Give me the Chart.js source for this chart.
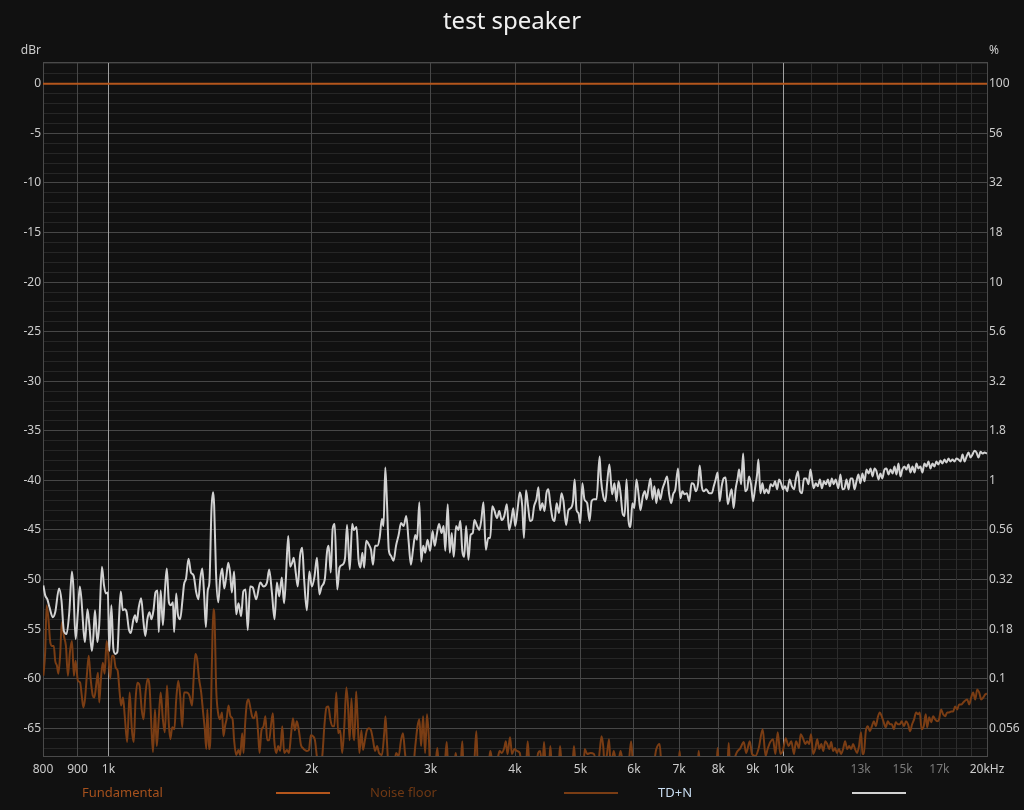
<!DOCTYPE html>
<html>
<head>
<meta charset="utf-8">
<title>test speaker</title>
<script src="https://cdn.jsdelivr.net/npm/chart.js@4.4.1/dist/chart.umd.min.js"></script>
<style>
  html, body { margin: 0; padding: 0; background: #111111; }
  #wrap { width: 1024px; height: 810px; }
</style>
</head>
<body>
<div id="wrap"><canvas id="graph" width="1024" height="810"></canvas></div>
<script>
// Values: [frequency Hz, level dBr]
const FUND_POINTS = [[800, 0], [20000, 0]];

const NOISE_POINTS = [
  [801, -59.7], [806, -57.3], [810, -52.6], [815, -54.0], [820, -56.3], [825, -56.7], [830, -56.7], [834, -58.2],
  [839, -58.7], [843, -59.5], [848, -57.7], [853, -54.3], [859, -55.7], [865, -56.7], [871, -59.7], [877, -57.3],
  [883, -56.2], [889, -59.7], [894, -58.2], [901, -60.2], [908, -60.4], [913, -61.7], [918, -62.9], [923, -62.1],
  [929, -59.7], [935, -57.7], [941, -60.0], [948, -61.7], [953, -61.9], [960, -60.4], [965, -59.4], [969, -62.4],
  [975, -59.9], [981, -58.4], [987, -59.5], [994, -56.2], [1000, -57.7], [1006, -60.0], [1012, -57.7], [1018, -57.7],
  [1025, -58.9], [1032, -59.2], [1039, -61.4], [1044, -62.7], [1051, -61.9], [1057, -63.7], [1066, -66.4], [1075, -61.4],
  [1083, -65.1], [1090, -66.4], [1097, -62.1], [1104, -60.4], [1112, -60.7], [1120, -63.1], [1127, -64.1], [1135, -61.4],
  [1143, -60.0], [1151, -61.0], [1157, -64.4], [1164, -67.4], [1172, -63.1], [1179, -66.8], [1187, -64.1], [1195, -61.4],
  [1204, -64.1], [1212, -65.4], [1221, -60.7], [1229, -64.7], [1235, -66.1], [1243, -64.9], [1252, -65.1], [1260, -62.1],
  [1269, -60.2], [1277, -61.7], [1286, -64.9], [1294, -61.4], [1306, -61.4], [1318, -61.7], [1330, -62.7], [1337, -60.0],
  [1345, -57.5], [1353, -58.0], [1362, -60.0], [1372, -61.4], [1381, -63.4], [1389, -65.1], [1396, -67.1], [1401, -63.1],
  [1409, -67.1], [1415, -66.4], [1423, -58.4], [1430, -53.0], [1436, -54.0], [1444, -61.0], [1453, -63.4], [1462, -64.1],
  [1473, -63.4], [1480, -65.8], [1489, -64.7], [1496, -64.1], [1506, -62.7], [1516, -63.8], [1527, -64.1], [1535, -66.2],
  [1546, -67.7], [1558, -67.2], [1567, -67.7], [1578, -65.5], [1585, -67.5], [1594, -64.5], [1603, -62.5], [1612, -62.1],
  [1621, -62.8], [1632, -63.8], [1643, -64.0], [1655, -63.3], [1666, -65.5], [1674, -67.5], [1685, -65.2], [1697, -64.8],
  [1708, -63.8], [1718, -66.2], [1730, -66.2], [1742, -64.5], [1752, -63.5], [1760, -66.2], [1772, -67.5], [1784, -66.8],
  [1796, -67.3], [1809, -64.8], [1821, -67.5], [1838, -67.2], [1851, -67.5], [1863, -65.8], [1876, -64.0], [1888, -65.2],
  [1901, -64.3], [1914, -65.2], [1928, -66.7], [1941, -67.0], [1954, -67.2], [1968, -67.3], [1981, -67.2], [1994, -65.7],
  [2008, -65.8], [2022, -66.2], [2036, -67.9], [2055, -69.0], [2074, -67.7], [2088, -64.8], [2103, -62.9], [2117, -62.8],
  [2131, -64.1], [2146, -64.8], [2160, -64.8], [2175, -61.4], [2189, -65.5], [2204, -65.2], [2219, -67.5], [2235, -64.8],
  [2251, -60.9], [2264, -62.8], [2276, -66.2], [2290, -62.0], [2303, -65.5], [2313, -66.2], [2327, -61.3], [2339, -64.1],
  [2353, -67.5], [2369, -65.2], [2382, -67.2], [2398, -66.2], [2414, -65.2], [2431, -65.0], [2448, -65.2], [2465, -66.2],
  [2482, -67.3], [2499, -66.8], [2516, -67.5], [2541, -67.7], [2561, -65.5], [2572, -63.8], [2584, -66.2], [2601, -69.0],
  [2644, -69.0], [2667, -67.5], [2690, -67.8], [2712, -66.2], [2730, -65.5], [2749, -67.5], [2768, -69.0], [2825, -69.0],
  [2847, -66.8], [2869, -64.8], [2887, -64.1], [2904, -66.8], [2924, -63.8], [2944, -67.5], [2963, -63.6], [2983, -66.2],
  [2995, -69.0], [3045, -69.0], [3069, -67.0], [3087, -69.0], [3143, -69.0], [3169, -66.4], [3187, -69.0], [3246, -69.0],
  [3268, -67.5], [3290, -69.0], [3320, -69.0], [3342, -66.3], [3357, -69.0], [3475, -69.0], [3506, -65.3], [3525, -69.0],
  [3649, -69.0], [3677, -67.3], [3702, -68.2], [3762, -68.2], [3796, -67.3], [3822, -67.5], [3856, -67.0], [3877, -66.3],
  [3899, -67.6], [3933, -65.9], [3959, -67.6], [3993, -67.1], [4030, -67.3], [4066, -67.5], [4095, -69.0], [4150, -69.0],
  [4177, -66.3], [4206, -69.0], [4294, -69.0], [4328, -67.5], [4357, -67.3], [4392, -69.0], [4416, -66.4], [4445, -69.0],
  [4490, -69.0], [4512, -66.8], [4539, -69.0], [4640, -69.0], [4664, -66.8], [4696, -69.0], [4860, -69.0], [4891, -66.8],
  [4923, -69.0], [5050, -69.0], [5074, -67.1], [5116, -67.6], [5175, -67.5], [5235, -67.6], [5300, -69.0], [5343, -67.1],
  [5373, -65.8], [5404, -66.8], [5433, -69.0], [5476, -67.5], [5513, -66.1], [5544, -69.0], [5601, -67.3], [5669, -69.0],
  [5733, -67.3], [5800, -69.0], [5880, -69.0], [5943, -66.3], [5990, -69.0], [6397, -69.0], [6477, -67.1], [6550, -66.6],
  [6600, -69.0], [6980, -69.0], [7012, -67.3], [7040, -69.0], [7450, -69.0], [7484, -67.3], [7520, -69.0], [7950, -69.0],
  [7981, -67.0], [8020, -69.0], [8250, -69.0], [8289, -66.5], [8330, -69.0], [8527, -67.4], [8626, -67.0], [8725, -66.4],
  [8800, -67.5], [8905, -66.3], [8976, -67.6], [9080, -67.8], [9183, -67.0], [9308, -65.1], [9400, -67.8], [9465, -67.1],
  [9550, -66.4], [9640, -66.1], [9720, -67.6], [9797, -65.4], [9887, -67.6], [9977, -67.2], [10068, -66.0], [10165, -66.8],
  [10261, -66.3], [10356, -67.6], [10427, -66.3], [10533, -67.0], [10595, -65.6], [10690, -66.1], [10762, -66.6], [10834, -66.3],
  [10905, -66.6], [10977, -65.6], [11055, -67.6], [11133, -67.1], [11211, -66.1], [11289, -67.1], [11367, -66.6], [11445, -67.3],
  [11523, -66.3], [11601, -66.6], [11679, -67.1], [11757, -66.4], [11835, -67.3], [11913, -67.0], [11991, -67.5], [12073, -67.1],
  [12158, -67.6], [12244, -67.1], [12329, -66.3], [12414, -67.1], [12500, -66.8], [12585, -67.1], [12670, -66.6], [12756, -67.1],
  [12841, -67.5], [12927, -66.8], [13018, -65.4], [13078, -67.6], [13138, -67.6], [13230, -65.3], [13322, -64.8], [13414, -65.3],
  [13506, -64.8], [13598, -64.3], [13690, -64.8], [13782, -63.9], [13874, -63.4], [13968, -63.8], [14064, -64.4], [14163, -64.9],
  [14261, -64.3], [14360, -64.6], [14458, -64.6], [14557, -65.1], [14655, -64.4], [14754, -64.6], [14853, -64.6], [14951, -64.3],
  [15069, -64.8], [15175, -64.3], [15280, -64.6], [15386, -65.3], [15492, -64.6], [15598, -64.1], [15703, -63.4], [15809, -63.6],
  [15899, -63.4], [16005, -65.1], [16118, -64.8], [16230, -63.6], [16309, -64.9], [16421, -63.9], [16534, -64.4], [16646, -63.8],
  [16758, -64.1], [16871, -64.3], [16983, -64.1], [17102, -63.1], [17222, -63.6], [17341, -63.8], [17461, -63.4], [17581, -63.4],
  [17701, -63.3], [17821, -63.3], [17940, -62.8], [18063, -63.1], [18190, -62.6], [18316, -62.6], [18443, -62.4], [18570, -62.2],
  [18696, -62.1], [18823, -62.6], [18949, -61.9], [19079, -61.4], [19212, -62.1], [19344, -61.1], [19476, -61.4], [19609, -62.1],
  [19741, -61.9], [19874, -61.6], [20000, -61.5]
];

const TDN_POINTS = [
  [801, -50.6], [806, -51.6], [812, -52.0], [818, -52.8], [827, -53.8], [834, -53.3], [845, -50.9], [852, -52.1],
  [859, -55.2], [867, -55.5], [875, -53.3], [883, -49.2], [887, -50.6], [894, -56.0], [901, -53.3], [907, -50.7],
  [912, -52.0], [919, -55.3], [923, -56.3], [931, -53.0], [937, -54.6], [945, -57.2], [950, -55.7], [955, -53.1],
  [963, -56.3], [969, -54.6], [978, -48.7], [985, -50.6], [991, -51.4], [998, -51.3], [1003, -57.2], [1010, -52.6],
  [1017, -57.0], [1024, -57.5], [1031, -57.3], [1037, -53.8], [1043, -51.2], [1050, -53.1], [1057, -53.0], [1064, -53.3],
  [1072, -55.0], [1079, -55.4], [1089, -54.0], [1095, -53.6], [1101, -54.3], [1109, -52.8], [1118, -51.9], [1127, -54.3],
  [1134, -55.7], [1142, -54.0], [1150, -53.3], [1158, -54.0], [1166, -53.1], [1174, -51.3], [1182, -51.1], [1187, -55.3],
  [1195, -51.1], [1204, -54.6], [1213, -50.9], [1220, -48.9], [1229, -52.3], [1237, -52.6], [1246, -52.3], [1251, -55.3],
  [1260, -51.4], [1267, -53.5], [1277, -54.0], [1287, -52.1], [1294, -50.5], [1303, -49.9], [1314, -47.9], [1325, -49.3],
  [1337, -49.6], [1349, -51.3], [1359, -52.0], [1368, -49.9], [1377, -48.9], [1386, -51.6], [1394, -54.8], [1403, -51.1],
  [1411, -50.3], [1421, -42.9], [1429, -41.2], [1434, -42.5], [1443, -49.3], [1454, -52.3], [1464, -49.9], [1474, -48.9],
  [1484, -50.9], [1494, -49.8], [1505, -48.3], [1514, -49.3], [1523, -51.3], [1535, -49.2], [1546, -53.5], [1558, -52.4],
  [1572, -53.7], [1584, -51.2], [1596, -51.0], [1608, -55.1], [1621, -50.7], [1636, -50.8], [1655, -52.0], [1678, -50.3],
  [1697, -50.7], [1717, -50.3], [1730, -49.0], [1746, -51.3], [1762, -54.0], [1776, -50.3], [1790, -51.7], [1806, -49.8],
  [1820, -52.4], [1831, -50.0], [1846, -45.6], [1858, -48.7], [1871, -48.3], [1881, -47.8], [1894, -49.3], [1907, -50.7],
  [1922, -47.6], [1936, -46.8], [1949, -50.0], [1967, -53.1], [1984, -49.2], [2001, -50.7], [2019, -49.7], [2036, -47.8],
  [2053, -51.5], [2069, -50.7], [2091, -50.0], [2108, -47.1], [2119, -46.6], [2134, -49.3], [2148, -44.9], [2163, -44.4],
  [2182, -51.0], [2199, -48.8], [2222, -48.5], [2241, -47.8], [2256, -44.5], [2277, -49.0], [2296, -44.4], [2309, -45.0],
  [2330, -44.7], [2346, -48.0], [2361, -48.8], [2377, -47.3], [2392, -48.8], [2408, -46.1], [2431, -46.5], [2448, -47.0],
  [2465, -48.5], [2482, -46.6], [2502, -46.6], [2521, -45.8], [2541, -43.9], [2555, -44.6], [2570, -38.7], [2584, -41.9],
  [2601, -47.0], [2620, -47.6], [2644, -48.1], [2666, -46.6], [2690, -45.5], [2712, -44.3], [2736, -44.6], [2761, -43.6],
  [2782, -46.0], [2805, -48.5], [2825, -47.0], [2847, -45.5], [2864, -46.0], [2887, -42.2], [2905, -48.2], [2925, -46.6],
  [2945, -47.3], [2968, -46.0], [2995, -47.1], [3020, -45.1], [3042, -46.6], [3061, -45.6], [3087, -44.4], [3114, -45.3],
  [3136, -44.6], [3154, -47.1], [3180, -42.4], [3202, -47.3], [3224, -45.3], [3246, -47.7], [3272, -44.6], [3298, -45.0],
  [3320, -44.1], [3342, -47.1], [3364, -47.7], [3386, -44.6], [3413, -48.0], [3438, -45.5], [3464, -45.3], [3483, -44.0],
  [3515, -44.6], [3541, -45.0], [3566, -44.0], [3592, -42.2], [3621, -47.0], [3651, -45.8], [3676, -45.8], [3702, -42.6],
  [3727, -43.0], [3762, -43.8], [3791, -43.1], [3822, -44.0], [3856, -43.6], [3890, -42.4], [3920, -45.0], [3950, -44.0],
  [3976, -42.8], [4003, -44.6], [4037, -42.8], [4066, -41.2], [4100, -42.6], [4124, -45.8], [4153, -41.0], [4182, -42.6],
  [4211, -44.1], [4240, -44.0], [4269, -42.6], [4304, -41.9], [4333, -40.7], [4356, -43.0], [4391, -42.3], [4424, -43.1],
  [4453, -41.3], [4482, -40.9], [4512, -42.4], [4545, -43.8], [4577, -44.1], [4610, -42.3], [4648, -43.3], [4687, -41.3],
  [4719, -42.1], [4761, -44.5], [4800, -43.0], [4837, -42.8], [4875, -42.1], [4902, -39.9], [4934, -43.0], [4966, -43.3],
  [4997, -44.3], [5033, -40.3], [5068, -41.9], [5116, -42.3], [5158, -44.1], [5194, -42.1], [5235, -41.9], [5283, -41.9],
  [5337, -37.6], [5361, -39.8], [5404, -41.6], [5445, -42.1], [5476, -40.3], [5519, -38.4], [5570, -41.4], [5615, -40.3],
  [5654, -42.1], [5693, -40.1], [5733, -41.3], [5772, -43.3], [5812, -43.6], [5851, -39.9], [5890, -44.0], [5929, -44.7],
  [5969, -42.3], [6009, -42.8], [6051, -39.9], [6094, -41.3], [6136, -43.0], [6185, -41.6], [6228, -41.1], [6264, -41.9],
  [6307, -40.8], [6349, -39.8], [6392, -41.9], [6434, -40.6], [6477, -42.3], [6520, -40.9], [6566, -41.9], [6612, -40.9],
  [6658, -40.3], [6720, -39.6], [6766, -41.4], [6812, -42.3], [6858, -41.4], [6911, -40.9], [6973, -38.8], [7030, -41.8],
  [7079, -41.1], [7129, -41.4], [7186, -41.3], [7246, -42.1], [7303, -40.3], [7360, -40.4], [7410, -41.1], [7469, -40.3],
  [7510, -38.5], [7562, -40.6], [7615, -41.1], [7678, -40.9], [7757, -41.3], [7825, -41.3], [7878, -40.6], [7930, -39.9],
  [7982, -39.2], [8037, -42.1], [8093, -40.6], [8149, -39.8], [8205, -39.7], [8262, -42.4], [8318, -41.6], [8374, -40.9],
  [8430, -42.8], [8486, -40.9], [8546, -39.8], [8588, -38.9], [8648, -40.4], [8708, -37.3], [8767, -41.1], [8827, -40.9],
  [8886, -39.6], [8946, -40.4], [9006, -42.1], [9069, -40.8], [9132, -39.4], [9173, -37.9], [9236, -41.3], [9299, -40.3],
  [9362, -41.3], [9425, -40.9], [9497, -41.3], [9564, -40.4], [9644, -40.6], [9710, -40.1], [9777, -40.9], [9843, -39.9],
  [9910, -40.3], [9977, -40.9], [10047, -40.6], [10118, -41.1], [10202, -39.9], [10284, -40.6], [10356, -40.9], [10427, -39.8],
  [10499, -39.1], [10570, -41.1], [10642, -41.3], [10714, -39.8], [10800, -39.8], [10882, -40.4], [10954, -38.9], [11025, -40.1],
  [11078, -40.8], [11156, -40.3], [11234, -40.6], [11312, -39.9], [11390, -40.8], [11468, -40.1], [11546, -40.4], [11625, -39.9],
  [11703, -40.6], [11781, -39.8], [11859, -40.4], [11937, -39.9], [12047, -40.8], [12132, -39.4], [12218, -40.9], [12303, -40.8],
  [12388, -39.9], [12474, -40.9], [12559, -39.8], [12645, -39.8], [12730, -40.9], [12815, -40.1], [12901, -39.4], [12986, -40.3],
  [13078, -39.3], [13170, -40.1], [13262, -38.9], [13354, -39.3], [13446, -38.8], [13538, -39.6], [13630, -38.8], [13722, -39.1],
  [13814, -39.9], [13906, -39.3], [13998, -39.8], [14099, -38.9], [14197, -38.8], [14296, -39.4], [14394, -38.9], [14493, -39.3],
  [14591, -38.6], [14690, -39.4], [14788, -38.3], [14887, -39.6], [14985, -38.9], [15090, -38.6], [15196, -38.9], [15302, -38.4],
  [15407, -39.2], [15513, -38.6], [15619, -39.2], [15725, -38.3], [15830, -38.8], [15936, -38.6], [16045, -39.2], [16157, -38.3],
  [16270, -38.6], [16382, -38.1], [16494, -38.8], [16607, -38.3], [16719, -38.6], [16831, -38.1], [16944, -38.4], [17060, -38.0],
  [17180, -38.3], [17300, -37.9], [17419, -38.2], [17539, -37.8], [17659, -38.1], [17779, -37.9], [17898, -38.1], [18020, -37.8],
  [18147, -37.9], [18273, -38.1], [18400, -37.4], [18526, -38.1], [18653, -37.6], [18780, -37.2], [18906, -37.7], [19033, -37.4],
  [19166, -37.0], [19298, -37.2], [19430, -37.7], [19563, -37.1], [19695, -37.3], [19828, -37.2], [20000, -37.3]
];

// Axis ticks and labels
const X_TICKS = [800, 900, 1000, 2000, 3000, 4000, 5000, 6000, 7000, 8000, 9000, 10000,
  11000, 12000, 13000, 14000, 15000, 16000, 17000, 18000, 19000, 20000];
const X_LABELS = { 800: '800', 900: '900', 1000: '1k', 2000: '2k', 3000: '3k', 4000: '4k', 5000: '5k',
  6000: '6k', 7000: '7k', 8000: '8k', 9000: '9k', 10000: '10k', 13000: '13k', 15000: '15k', 17000: '17k', 20000: '20kHz' };
const DIM_X_LABELS = [13000, 15000, 17000];
const DB_LABELS = [0, -5, -10, -15, -20, -25, -30, -35, -40, -45, -50, -55, -60, -65];
const PCT_LABELS = ['100', '56', '32', '18', '10', '5.6', '3.2', '1.8', '1', '0.56', '0.32', '0.18', '0.1', '0.056'];
const SERIES_NAMES = ['Fundamental', 'Noise floor', 'TD+N'];

// Style
const FONT = "'Noto Sans', 'Open Sans', sans-serif";
const LINE_COLORS = ['#b4561c', '#7a3d14', '#d2d2d2'];
const LEGEND_TEXT_COLORS = ['#a5511d', '#6e3814', '#c8dcf0'];
const DB_MIN = -67.8, DB_MAX = 2.2;

// one grid line per dB
const dbGrid = [];
for (let v = Math.ceil(DB_MIN); v <= Math.floor(DB_MAX); v++) dbGrid.push(v);

const toXY = pts => pts.map(([x, y]) => ({ x, y }));

function xGridColor(ctx) {
  const v = ctx.tick && ctx.tick.value;
  if (v === 1000 || v === 10000) return '#a0a0a0';
  if (v > 10000 && v < 20000) return '#2c2c2c';
  return '#474747';
}

function yGridColor(ctx) {
  const v = ctx.tick && ctx.tick.value;
  return DB_LABELS.includes(v) ? '#474747' : '#262626';
}

// Title, unit captions, frame and the text-then-line legend
const decorations = {
  id: 'decorations',
  beforeDatasetsDraw(chart) {
    const { ctx, chartArea: a } = chart;
    ctx.save();
    ctx.strokeStyle = '#4a4a4a';
    ctx.lineWidth = 1;
    ctx.beginPath();
    ctx.moveTo(a.left, a.top + 0.5);
    ctx.lineTo(a.right, a.top + 0.5);
    ctx.stroke();
    ctx.restore();
  },
  afterDraw(chart) {
    const { ctx, chartArea: a } = chart;
    ctx.save();
    ctx.textBaseline = 'middle';

    ctx.fillStyle = '#f0f0f0';
    ctx.font = '24px ' + FONT;
    ctx.textAlign = 'center';
    ctx.fillText('test speaker', chart.width / 2, 22);

    ctx.fillStyle = '#cccccc';
    ctx.font = '12px ' + FONT;
    ctx.textAlign = 'right';
    ctx.fillText('dBr', a.left - 2, 51);
    ctx.textAlign = 'left';
    ctx.fillText('%', a.right + 2, 51);

    ctx.font = '13px ' + FONT;
    SERIES_NAMES.forEach((name, i) => {
      const x0 = 82 + i * 288;
      ctx.fillStyle = LEGEND_TEXT_COLORS[i];
      ctx.textAlign = 'left';
      ctx.fillText(name, x0, 793);
      ctx.strokeStyle = LINE_COLORS[i];
      ctx.lineWidth = 2;
      ctx.beginPath();
      ctx.moveTo(x0 + 194, 793);
      ctx.lineTo(x0 + 248, 793);
      ctx.stroke();
    });
    ctx.restore();
  }
};

const tickFont = { family: FONT, size: 12 };

new Chart(document.getElementById('graph').getContext('2d'), {
  type: 'line',
  data: {
    datasets: [
      { label: SERIES_NAMES[0], data: toXY(FUND_POINTS), borderColor: LINE_COLORS[0], borderWidth: 2,
        pointRadius: 0, yAxisID: 'y', order: 0 },
      { label: SERIES_NAMES[1], data: toXY(NOISE_POINTS), borderColor: LINE_COLORS[1], borderWidth: 2,
        pointRadius: 0, cubicInterpolationMode: 'monotone', yAxisID: 'y', order: 2 },
      { label: SERIES_NAMES[2], data: toXY(TDN_POINTS), borderColor: LINE_COLORS[2], borderWidth: 2,
        pointRadius: 0, cubicInterpolationMode: 'monotone', yAxisID: 'y', order: 1 }
    ]
  },
  options: {
    responsive: false,
    animation: false,
    devicePixelRatio: 1,
    layout: { padding: { top: 62, left: 0, right: 0, bottom: 0 } },
    plugins: { legend: { display: false }, tooltip: { enabled: false }, title: { display: false } },
    scales: {
      x: {
        type: 'logarithmic',
        min: 800,
        max: 20000,
        afterBuildTicks: s => { s.ticks = X_TICKS.map(v => ({ value: v })); },
        afterFit: s => { s.height = 54; },
        grid: { color: xGridColor, drawTicks: false, z: -1 },
        border: { color: '#4a4a4a' },
        ticks: {
          autoSkip: false, maxRotation: 0, padding: 6, font: tickFont,
          color: c => DIM_X_LABELS.includes(c.tick && c.tick.value) ? '#7a7a7a' : '#cccccc',
          callback: v => X_LABELS[v] || ''
        }
      },
      y: {
        position: 'left',
        min: DB_MIN,
        max: DB_MAX,
        afterBuildTicks: s => { s.ticks = dbGrid.map(v => ({ value: v })); },
        afterFit: s => { s.width = 43; },
        grid: { color: yGridColor, drawTicks: false, z: -2 },
        border: { color: '#4a4a4a' },
        ticks: {
          autoSkip: false, padding: 2, font: tickFont, color: '#cccccc',
          callback: v => DB_LABELS.includes(v) ? String(v) : ''
        }
      },
      y2: {
        position: 'right',
        min: DB_MIN,
        max: DB_MAX,
        afterBuildTicks: s => { s.ticks = dbGrid.map(v => ({ value: v })); },
        afterFit: s => { s.width = 37; },
        grid: { drawOnChartArea: false, drawTicks: false, z: -2 },
        border: { color: '#4a4a4a' },
        ticks: {
          autoSkip: false, padding: 2, font: tickFont, color: '#cccccc',
          callback: v => { const i = DB_LABELS.indexOf(v); return i >= 0 ? PCT_LABELS[i] : ''; }
        }
      }
    }
  },
  plugins: [decorations]
});
</script>
</body>
</html>
